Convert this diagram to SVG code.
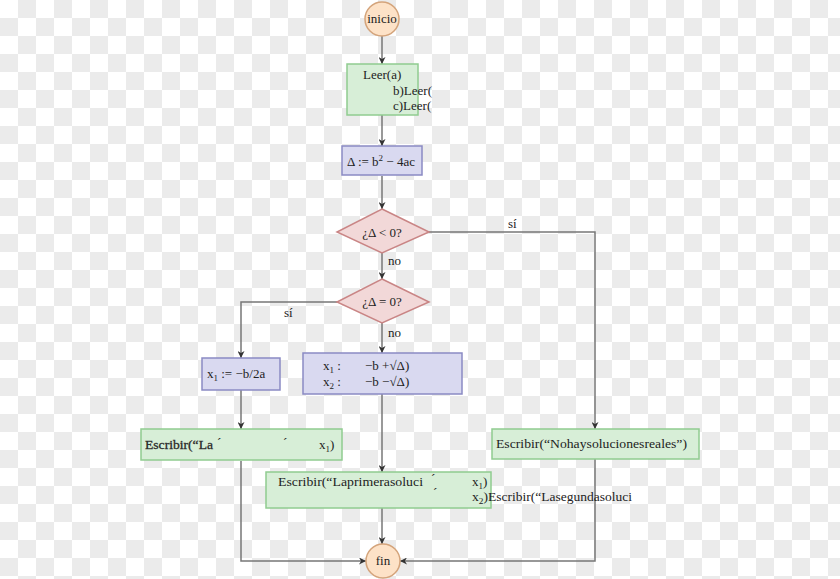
<svg xmlns="http://www.w3.org/2000/svg" width="840" height="579" viewBox="0 0 840 579">
<defs>
<pattern id="checker" x="0" y="0" width="36" height="36" patternUnits="userSpaceOnUse">
<rect width="36" height="36" fill="#ffffff"/>
<rect x="18" y="0" width="18" height="18" fill="#ebebeb"/>
<rect x="0" y="18" width="18" height="18" fill="#ebebeb"/>
</pattern>
<marker id="arr" viewBox="0 0 10 10" refX="10" refY="5" markerWidth="7" markerHeight="7" orient="auto" markerUnits="userSpaceOnUse">
<path d="M0,0 L10,5 L0,10 L3,5 z" fill="#333"/>
</marker>
<style>
text{font-family:"Liberation Serif","DejaVu Serif",serif;font-size:13px;fill:#222}
.g{fill:#d7eed7;stroke:#90cc90;stroke-width:1.5}
.b{fill:#d9d9f0;stroke:#8a8ac4;stroke-width:1.5}
.d{fill:#f2d8d8;stroke:#c98585;stroke-width:1.5}
.c{fill:#fde2c7;stroke:#d4a47b;stroke-width:1.5}
.e{fill:none;stroke:#777;stroke-width:1.5}
.a{marker-end:url(#arr)}
.sub{font-size:9px}
</style>
</defs>
<rect width="840" height="579" fill="url(#checker)"/>
<g id="connectors">
<line class="e a" x1="382" y1="36" x2="382" y2="64"/>
<line class="e a" x1="382" y1="115" x2="382" y2="146"/>
<line class="e a" x1="382" y1="176" x2="382" y2="209"/>
<polyline class="e a" points="429,232 595,232 595,429"/>
<line class="e a" x1="382" y1="253" x2="382" y2="279"/>
<polyline class="e a" points="337,302 241,302 241,358"/>
<line class="e a" x1="382" y1="323" x2="382" y2="353"/>
<line class="e a" x1="241" y1="390" x2="241" y2="429"/>
<line class="e a" x1="382" y1="394" x2="382" y2="472"/>
<polyline class="e a" points="241,461 241,561 366,561"/>
<line class="e a" x1="382" y1="508" x2="382" y2="544"/>
<polyline class="e a" points="595,459 595,561 400,561"/>
<text x="508" y="228">sí</text>
<text x="388" y="265">no</text>
<text x="284" y="317">sí</text>
<text x="388" y="337">no</text>
</g>
<g id="inicio">
<circle class="c" cx="382" cy="19" r="17"/>
<text x="382" y="23" text-anchor="middle">inicio</text>
</g>
<g id="leer">
<rect class="g" x="347" y="64" width="71" height="51"/>
<text x="363" y="79">Leer(a)</text>
<text x="393" y="95">b)Leer(</text>
<text x="393" y="110">c)Leer(</text>
</g>
<g id="delta">
<rect class="b" x="342" y="146" width="80" height="29"/>
<text x="347" y="166" font-size="13.5">Δ := b<tspan class="sub" dy="-5">2</tspan><tspan dy="5"> − 4ac</tspan></text>
</g>
<g id="cond1">
<polygon class="d" points="382,209 429,232 382,253 337,232"/>
<text x="382" y="237" text-anchor="middle" font-size="13.5">¿Δ &lt; 0?</text>
</g>
<g id="cond2">
<polygon class="d" points="382,279 429,302 382,323 337,302"/>
<text x="382" y="306" text-anchor="middle" font-size="13.5">¿Δ = 0?</text>
</g>
<g id="x1box">
<rect class="b" x="202" y="358" width="78" height="32"/>
<text x="207" y="378" font-size="13.5">x<tspan class="sub" dy="3">1</tspan><tspan dy="-3"> := −b/2a</tspan></text>
</g>
<g id="x12box">
<rect class="b" x="303" y="353" width="159" height="41"/>
<text x="323" y="370">x<tspan class="sub" dy="3">1</tspan><tspan dy="-3"> :</tspan></text>
<text x="365" y="370" font-size="13.5">−b +√Δ)</text>
<text x="323" y="386">x<tspan class="sub" dy="3">2</tspan><tspan dy="-3"> :</tspan></text>
<text x="365" y="386" font-size="13.5">−b −√Δ)</text>
</g>
<g id="escribir1">
<rect class="g" x="141" y="429" width="201" height="31"/>
<text x="145" y="449" textLength="68" lengthAdjust="spacingAndGlyphs" stroke="#333" stroke-width="0.3">Escribir(“La</text>
<text x="217" y="447">´</text>
<text x="283" y="447">´</text>
<text x="319" y="449">x<tspan class="sub" dy="3">1</tspan><tspan dy="-3">)</tspan></text>
</g>
<g id="escribir3">
<rect class="g" x="492" y="429" width="207" height="30"/>
<text x="496" y="448" textLength="191" lengthAdjust="spacingAndGlyphs">Escribir(“Nohaysolucionesreales”)</text>
</g>
<g id="escribir2">
<rect class="g" x="266" y="472" width="225" height="36"/>
<text x="278" y="486" textLength="145" lengthAdjust="spacingAndGlyphs">Escribir(“Laprimerasoluci</text>
<text x="431" y="483">´</text>
<text x="472" y="486">x<tspan class="sub" dy="3">1</tspan><tspan dy="-3">)</tspan></text>
<text x="433" y="497">´</text>
<text x="472" y="501" textLength="160" lengthAdjust="spacingAndGlyphs">x<tspan class="sub" dy="3">2</tspan><tspan dy="-3">)Escribir(“Lasegundasoluci</tspan></text>
</g>
<g id="fin">
<circle class="c" cx="383" cy="561" r="17"/>
<text x="383" y="565" text-anchor="middle">fin</text>
</g>
</svg>
